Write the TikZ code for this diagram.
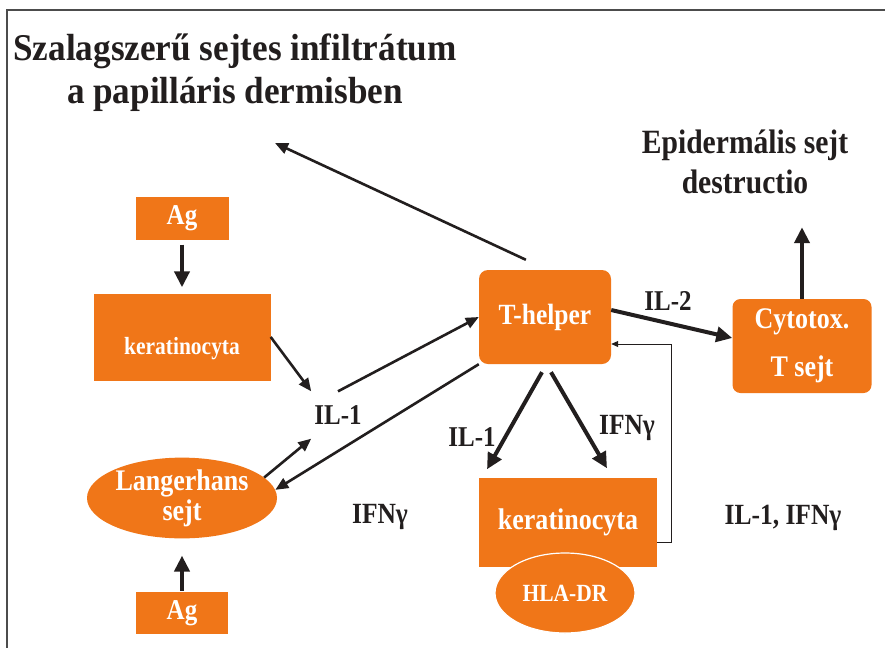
\documentclass[tikz,border=0pt]{standalone}
\usepackage{fontspec}
\setmainfont{Liberation Serif}
\usepackage{graphicx}
\usepackage{xcolor}
\usepackage{tikz}
\usetikzlibrary{arrows.meta,shapes.geometric}
\definecolor{narancs}{RGB}{240,118,24}
\definecolor{tinta}{RGB}{34,30,30}
\newcommand\meret[2]{\fontsize{#1}{#2}\selectfont}
\newcommand\nyujt[1]{\scalebox{0.87}[1]{#1}}

\begin{document}
\begin{tikzpicture}[x=1pt,y=-1pt,
        doboz/.style={fill=narancs, text=white, font=\bfseries, inner sep=0pt},
        kerek/.style={doboz, rounded corners=9pt},
        tojas/.style={doboz, ellipse},
        felirat/.style={text=tinta, inner sep=1pt},
        nyil/.style={draw=tinta, line width=2.6pt, -{Triangle[length=13pt,width=11pt]}},
        vastag/.style={draw=tinta, line width=4pt, -{Triangle[length=16pt,width=15pt]}}]
                \fill[white] (0,0) rectangle (885,648);
                \useasboundingbox (0,0) rectangle (885,648);
                \draw[gray!60!black, line width=2pt] (885,10) -- (7,10) -- (7,648);
                % szovegek
                \node[felirat, align=center, font=\bfseries\meret{37.8}{43}] (infiltr) at (235,73) {\scalebox{0.93}[1]{Szalagszerű sejtes infiltrátum}\\\scalebox{0.93}[1]{a papilláris dermisben}};
                \node[felirat, align=center, font=\bfseries\meret{34}{40}] (epid) at (745,162) {\nyujt{Epidermális sejt}\\\nyujt{destructio}};
                \coordinate (infl) at (275,143);
                % sejtek
                \node[doboz, minimum width=93pt, minimum height=43pt, font=\bfseries\meret{28.7}{30}] (agT) at (182,218) {\nyujt{Ag}};
                \node[doboz, minimum width=177pt, minimum height=87pt, font=\bfseries\meret{24.7}{26}] (kerL) at (182,337) {\raisebox{-17pt}[0pt][0pt]{\nyujt{keratinocyta}}};
                \node[kerek, minimum width=132pt, minimum height=94pt, font=\bfseries\meret{29.3}{30}] (thelper) at (545,317) {\nyujt{T-helper}};
                \node[kerek, rounded corners=8pt, minimum width=139pt, minimum height=94pt, align=center, font=\bfseries\meret{29.9}{48}] (cyto) at (802,346) {\nyujt{Cytotox.}\\\nyujt{T sejt}};
                \node[doboz, minimum width=178pt, minimum height=89pt, font=\bfseries\meret{29.9}{30}] (kerR) at (568,522) {\nyujt{keratinocyta}};
                \node[tojas, draw=white, line width=1.2pt, minimum width=140pt, minimum height=80pt, font=\bfseries\meret{24.7}{26}] (hla) at (565,593) {\nyujt{HLA-DR}};
                \node[tojas, minimum width=190pt, minimum height=80pt, align=center, font=\bfseries\meret{29.9}{30}] (langer) at (182,498) {\nyujt{Langerhans}\\\nyujt{sejt}};
                \node[doboz, minimum width=92pt, minimum height=42pt, font=\bfseries\meret{28.7}{30}] (agB) at (182,613) {\nyujt{Ag}};
                % citokinek
                \node[felirat, inner xsep=3pt, inner ysep=14pt, font=\bfseries\meret{28.7}{30}] (ilA) at (338,415) {\nyujt{IL-1}};
                \node[felirat, font=\bfseries\meret{28.7}{30}] (ilB) at (472,437) {\nyujt{IL-1}};
                \node[felirat, font=\bfseries\meret{29.3}{30}] (ifnB) at (627,428) {\nyujt{IFNγ}};
                \node[felirat, font=\bfseries\meret{29.3}{30}] (ifnA) at (380,517) {\nyujt{IFNγ}};
                \node[felirat, font=\bfseries\meret{28.7}{30}] (il2) at (668,301) {\nyujt{IL-2}};
                \node[felirat, font=\bfseries\meret{29.3}{30}] (ilifn) at (783,518) {\nyujt{IL-1, IFNγ}};
                % nyilak
                \draw[vastag, shorten <=5pt, shorten >=6pt] (agT) -- (kerL);
                \draw[vastag, shorten <=1pt, shorten >=17pt] (agB) -- (langer);
                \draw[nyil] (kerL.east) -- (ilA.north west);
                \draw[nyil] (ilA.north) -- (thelper.west);
                \draw[nyil] (thelper.south west) -- (langer.5);
                \draw[nyil] (langer.14) -- (ilA.south west);
                \draw[nyil] ([yshift=10pt]thelper.112) -- (infl);
                \draw[vastag] ([xshift=-3pt,yshift=-8pt]thelper.south) -- ([xshift=-81pt,yshift=8pt]kerR.north);
                \draw[vastag] ([xshift=6pt,yshift=-8pt]thelper.south) -- ([xshift=39pt,yshift=9pt]kerR.north);
                \draw[vastag] ([yshift=7pt]thelper.east) -- ([yshift=8pt]cyto.west);
                \draw[vastag, shorten >=32pt] (cyto.north) -- (cyto.north |- epid.south);
                \draw[tinta, line width=1pt, -{Triangle[length=7pt,width=6pt]}] ([yshift=-20pt]kerR.east) -- ++(14,0) |- ([yshift=-27pt]thelper.east);
            \end{tikzpicture}
\end{document}
